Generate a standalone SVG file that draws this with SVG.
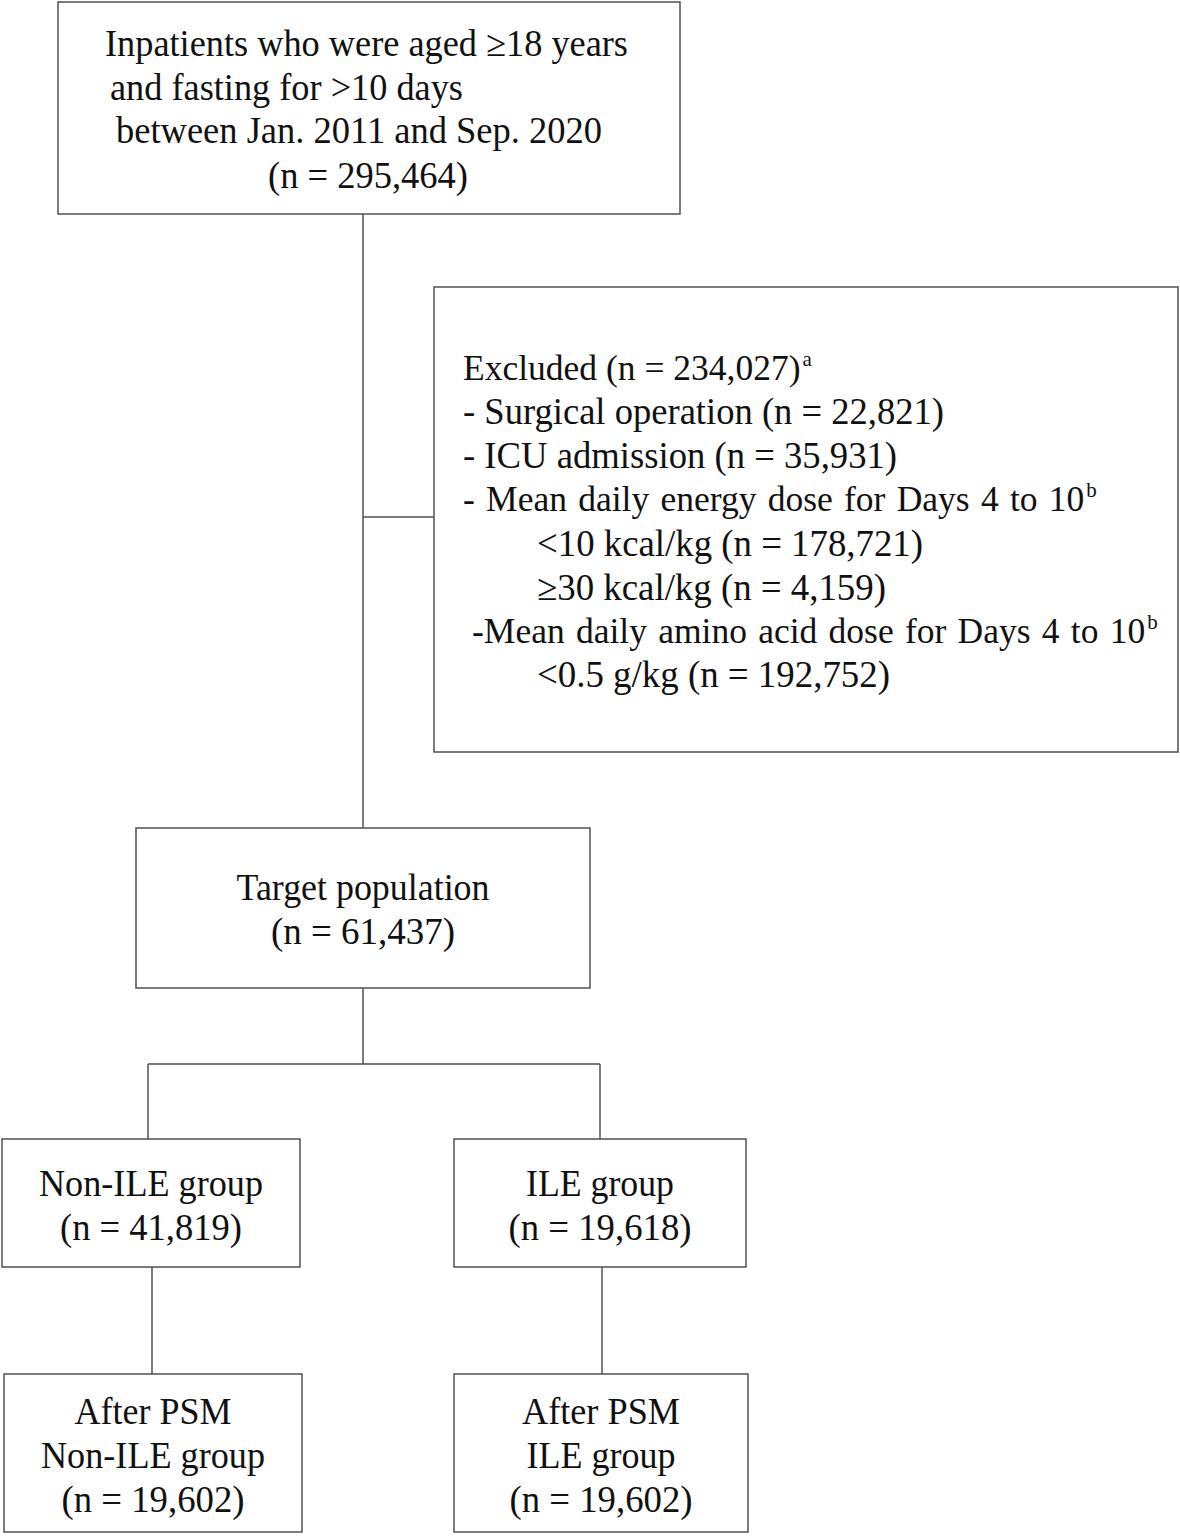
<svg xmlns="http://www.w3.org/2000/svg" width="1180" height="1536" viewBox="0 0 1180 1536">
<style>
.box{fill:#fff;stroke:#505050;stroke-width:1.5}
.ln{stroke:#505050;stroke-width:1.5;fill:none}
text{font-family:"Liberation Serif","Times New Roman",serif;font-size:37px;fill:#111}
.c{text-anchor:middle}
.s{font-size:35.5px}
.ws{word-spacing:2.4px}
.sup{font-size:21px;word-spacing:0}
</style>
<rect width="1180" height="1536" fill="#fff"/>
<g id="connectors">
<path class="ln" d="M363 214V828"/>
<path class="ln" d="M363 517H434"/>
<path class="ln" d="M363 988V1064"/>
<path class="ln" d="M148 1064H600"/>
<path class="ln" d="M148 1064V1139"/>
<path class="ln" d="M600 1064V1139"/>
<path class="ln" d="M152 1267V1374"/>
<path class="ln" d="M602 1267V1374"/>
</g>
<g id="n-start">
<rect class="box" x="58" y="2" width="622" height="212"/>
<text x="105" y="56" textLength="523" lengthAdjust="spacingAndGlyphs">Inpatients  who were aged ≥18 years</text>
<text x="110" y="100" textLength="353" lengthAdjust="spacingAndGlyphs">and fasting for &gt;10 days</text>
<text x="116" y="143" textLength="486" lengthAdjust="spacingAndGlyphs">between Jan. 2011 and Sep. 2020</text>
<text x="268" y="188" textLength="200" lengthAdjust="spacingAndGlyphs">(n = 295,464)</text>
</g>
<g id="n-excluded">
<rect class="box" x="434" y="287" width="744" height="465"/>
<text class="s" x="463" y="380">Excluded (n = 234,027)<tspan class="sup" dx="2" dy="-14">a</tspan></text>
<text x="463" y="424" textLength="481" lengthAdjust="spacingAndGlyphs">- Surgical  operation  (n = 22,821)</text>
<text x="463" y="468" textLength="434" lengthAdjust="spacingAndGlyphs">- ICU  admission  (n = 35,931)</text>
<text class="s ws" x="463" y="511">- Mean daily energy dose for Days 4 to 10<tspan class="sup" dx="2" dy="-14">b</tspan></text>
<text x="537" y="556" textLength="386" lengthAdjust="spacingAndGlyphs">&lt;10 kcal/kg (n = 178,721)</text>
<text x="537" y="600" textLength="349" lengthAdjust="spacingAndGlyphs">≥30 kcal/kg (n = 4,159)</text>
<text class="s ws" x="472" y="643">-Mean daily amino acid dose for Days 4 to 10<tspan class="sup" dx="2" dy="-14">b</tspan></text>
<text x="537" y="687" textLength="353" lengthAdjust="spacingAndGlyphs">&lt;0.5 g/kg (n = 192,752)</text>
</g>
<g id="n-target">
<rect class="box" x="136" y="828" width="454" height="160"/>
<text class="c" x="363" y="900" textLength="253" lengthAdjust="spacingAndGlyphs">Target population</text>
<text class="c" x="363" y="944" textLength="184" lengthAdjust="spacingAndGlyphs">(n = 61,437)</text>
</g>
<g id="n-nonile">
<rect class="box" x="2" y="1139" width="298" height="128"/>
<text class="c" x="151" y="1196" textLength="224" lengthAdjust="spacingAndGlyphs">Non-ILE  group</text>
<text class="c" x="151" y="1240" textLength="182" lengthAdjust="spacingAndGlyphs">(n = 41,819)</text>
</g>
<g id="n-ile">
<rect class="box" x="454" y="1139" width="292" height="128"/>
<text class="c" x="600" y="1196" textLength="148" lengthAdjust="spacingAndGlyphs">ILE group</text>
<text class="c" x="600" y="1240" textLength="183" lengthAdjust="spacingAndGlyphs">(n = 19,618)</text>
</g>
<g id="n-psm-nonile">
<rect class="box" x="4" y="1374" width="298" height="158"/>
<text class="c" x="153" y="1424" textLength="157" lengthAdjust="spacingAndGlyphs">After PSM</text>
<text class="c" x="153" y="1468" textLength="224" lengthAdjust="spacingAndGlyphs">Non-ILE  group</text>
<text class="c" x="153" y="1512" textLength="183" lengthAdjust="spacingAndGlyphs">(n = 19,602)</text>
</g>
<g id="n-psm-ile">
<rect class="box" x="454" y="1374" width="294" height="158"/>
<text class="c" x="601" y="1424" textLength="158" lengthAdjust="spacingAndGlyphs">After PSM</text>
<text class="c" x="601" y="1468" textLength="149" lengthAdjust="spacingAndGlyphs">ILE group</text>
<text class="c" x="601" y="1512" textLength="183" lengthAdjust="spacingAndGlyphs">(n = 19,602)</text>
</g>
</svg>
